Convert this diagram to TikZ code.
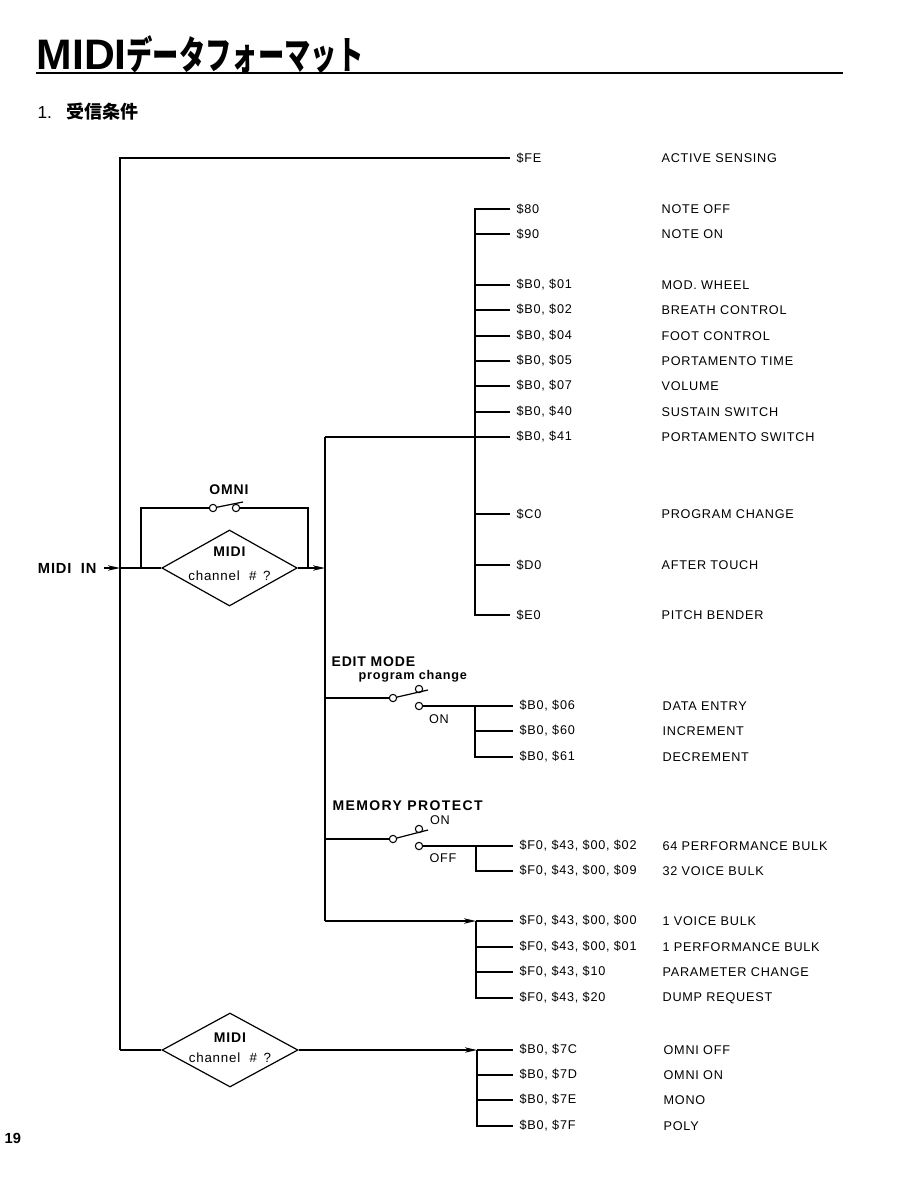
\documentclass[tikz,border=0pt]{standalone}
\usepackage{fontspec}
\usepackage{graphicx}
\setmainfont{Liberation Sans}
\newfontfamily\lab[LetterSpace=6]{Liberation Sans}
\newfontfamily\cjk{Noto Sans CJK JP}
\usetikzlibrary{arrows.meta,shapes.geometric}
\begin{document}
\begin{tikzpicture}[x=0.75pt,y=-0.75pt,line width=0.9pt,
  lbl/.style={anchor=west,inner xsep=4.5pt,inner ysep=1pt,font=\lab\fontsize{9.5}{11}\selectfont},
  desc/.style={anchor=west,inner sep=0pt,font=\lab\fontsize{9.5}{11}\selectfont},
  head/.style={anchor=west,inner sep=0pt,font=\lab\bfseries\fontsize{10.5}{12}\selectfont},
  small/.style={inner sep=0pt,font=\lab\fontsize{9.5}{11}\selectfont},
  arr/.style={-{Stealth[length=9pt,width=4pt,inset=2.5pt]}},
  pin/.style={circle,draw,fill=white,inner sep=0pt,minimum size=5.5pt,line width=0.8pt},
  dia/.style={diamond,draw,inner sep=0pt,minimum width=101.5pt,minimum height=57pt},
  diatext/.style={align=center,inner sep=0pt,font=\lab\fontsize{10}{18}\selectfont}]
\useasboundingbox (0,0) rectangle (896,1180);

% title
\node[anchor=base west,inner sep=0pt] (title) at (36,70)
  {\fontsize{32}{32}\selectfont\bfseries MIDI\cjk\fontsize{29}{29}\selectfont\scalebox{0.68}[1]{データフォーマット}};
\draw[line width=1.6pt] (36,73) -- (843,73);
\node[anchor=west,inner sep=0pt] (sec) at (37,112)
  {\fontsize{13}{14}\selectfont 1.\hspace{11pt}{\cjk\bfseries\fontsize{13.5}{14}\selectfont 受信条件}};
\node[anchor=west,inner sep=0pt] (pg) at (4,1138) {\fontsize{11}{12}\selectfont\bfseries 19};

% active sensing
\node[lbl] (fe) at (510,158) {\$FE};
\node[desc] (dfe) at (661,158) {ACTIVE SENSING};
\coordinate (top) at (120,158);
\coordinate (bot) at (120,1050);
\coordinate (inj) at (120,568);
\draw (fe.west) -- (top) -- (bot);

% MIDI IN and first diamond
\node[head,anchor=east,inner xsep=5.25pt,font=\lab\bfseries\fontsize{11}{12}\selectfont] (midiin) at (104,568) {MIDI\hspace{7pt}IN};
\draw[arr] (midiin.east) -- (inj);
\node[dia,label={[diatext,yshift=3pt]center:{{\bfseries\fontsize{10.5}{18}\selectfont MIDI}\\channel\hspace{7pt}\#\hspace{5pt}?}}] (d1) at (229.5,568) {};
\draw (inj) -- (d1.west);

% OMNI bypass
\coordinate (o1) at (141,568);
\coordinate (o2) at (308,568);
\node[pin] (sa) at (213,508) {};
\node[pin] (sb) at (236,508) {};
\draw (o1) |- (sa);
\draw (sb) -| (o2);
\draw (sa) -- (243,502);
\node[head,anchor=center] (omni) at (229,490) {OMNI};

\coordinate (j2) at (325,568);
\draw[arr] (d1.east) -- (j2);
\coordinate (v2t) at (325,437);
\coordinate (v2b) at (325,921);
\draw (v2t) -- (v2b);

% first bus
\foreach \y/\n/\c/\d in {209/a/{\$80}/{NOTE OFF},234/b/{\$90}/{NOTE ON},285/c/{\$B0, \$01}/{MOD. WHEEL},
  310/d/{\$B0, \$02}/{BREATH CONTROL},336/e/{\$B0, \$04}/{FOOT CONTROL},361/f/{\$B0, \$05}/{PORTAMENTO TIME},
  386/g/{\$B0, \$07}/{VOLUME},412/h/{\$B0, \$40}/{SUSTAIN SWITCH},437/i/{\$B0, \$41}/{PORTAMENTO SWITCH},
  514/j/{\$C0}/{PROGRAM CHANGE},565/k/{\$D0}/{AFTER TOUCH},615/l/{\$E0}/{PITCH BENDER}}{
  \node[lbl] (c\n) at (510,\y) {\c};
  \node[desc] (dd\n) at (661,\y) {\d};
}
\coordinate (b1t) at (475,209);
\coordinate (b1b) at (475,615);
\draw (ca.west) -- (b1t) -- (b1b) -- (cl.west);
\foreach \y/\n in {234/b,285/c,310/d,336/e,361/f,386/g,412/h,514/j,565/k}{
  \draw (475,\y) -- (c\n.west);
}
\draw (v2t) -- (ci.west);

% EDIT MODE
\node[head] (edit) at (331,662) {EDIT MODE};
\node[small,anchor=west] (pc) at (358,676) {\bfseries program change};
\coordinate (e0) at (325,698);
\node[pin] (ep) at (393,698) {};
\node[pin] (eu) at (419,689) {};
\node[pin] (el) at (419,706) {};
\draw (e0) -- (ep);
\draw (ep) -- (428,690);
\node[small] (on1) at (439,719) {ON};
\node[lbl] (e06) at (513,706) {\$B0, \$06};
\node[lbl] (e60) at (513,731) {\$B0, \$60};
\node[lbl] (e61) at (513,757) {\$B0, \$61};
\node[desc] (de06) at (662,706) {DATA ENTRY};
\node[desc] (de60) at (662,731) {INCREMENT};
\node[desc] (de61) at (662,757) {DECREMENT};
\coordinate (b2t) at (475,706);
\coordinate (b2b) at (475,757);
\draw (el) -- (e06.west);
\draw (b2t) -- (b2b) -- (e61.west);
\draw (475,731) -- (e60.west);

% MEMORY PROTECT
\node[head,font=\lab\bfseries\fontsize{10.5}{12}\selectfont\addfontfeature{LetterSpace=10}] (mem) at (332,806) {MEMORY PROTECT};
\node[small] (on2) at (440,820) {ON};
\coordinate (m0) at (325,839);
\node[pin] (mp) at (393,839) {};
\node[pin] (mu) at (419,829) {};
\node[pin] (ml) at (419,846) {};
\draw (m0) -- (mp);
\draw (mp) -- (428,830);
\node[small] (off) at (443,858) {OFF};
\node[lbl] (m02) at (513,846) {\$F0, \$43, \$00, \$02};
\node[lbl] (m09) at (513,871) {\$F0, \$43, \$00, \$09};
\node[desc] (dm02) at (662,846) {64 PERFORMANCE BULK};
\node[desc] (dm09) at (662,871) {32 VOICE BULK};
\coordinate (b3t) at (476,846);
\coordinate (b3b) at (476,871);
\draw (ml) -- (m02.west);
\draw (b3t) -- (b3b) -- (m09.west);

% system exclusive bus
\node[lbl] (f00) at (513,921) {\$F0, \$43, \$00, \$00};
\node[lbl] (f01) at (513,947) {\$F0, \$43, \$00, \$01};
\node[lbl] (f10) at (513,972) {\$F0, \$43, \$10};
\node[lbl] (f20) at (513,998) {\$F0, \$43, \$20};
\node[desc] (df00) at (662,921) {1 VOICE BULK};
\node[desc] (df01) at (662,947) {1 PERFORMANCE BULK};
\node[desc] (df10) at (662,972) {PARAMETER CHANGE};
\node[desc] (df20) at (662,998) {DUMP REQUEST};
\coordinate (b4t) at (476,921);
\coordinate (b4b) at (476,998);
\draw[arr] (v2b) -- (b4t);
\draw (b4t) -- (f00.west);
\draw (b4t) -- (b4b) -- (f20.west);
\draw (476,947) -- (f01.west);
\draw (476,972) -- (f10.west);

% second diamond
\node[dia,minimum width=102pt,minimum height=55.5pt,label={[diatext,font=\lab\fontsize{10}{15}\selectfont,yshift=2pt]center:{{\bfseries\fontsize{10.5}{15}\selectfont MIDI}\\channel\hspace{7pt}\#\hspace{5pt}?}}] (d2) at (230,1050) {};
\draw (bot) -- (d2.west);
\node[lbl] (s7c) at (513,1050) {\$B0, \$7C};
\node[lbl] (s7d) at (513,1075) {\$B0, \$7D};
\node[lbl] (s7e) at (513,1100) {\$B0, \$7E};
\node[lbl] (s7f) at (513,1126) {\$B0, \$7F};
\node[desc] (ds7c) at (663,1050) {OMNI OFF};
\node[desc] (ds7d) at (663,1075) {OMNI ON};
\node[desc] (ds7e) at (663,1100) {MONO};
\node[desc] (ds7f) at (663,1126) {POLY};
\coordinate (b5t) at (477,1050);
\coordinate (b5b) at (477,1126);
\draw[arr] (d2.east) -- (b5t);
\draw (b5t) -- (s7c.west);
\draw (b5t) -- (b5b) -- (s7f.west);
\draw (477,1075) -- (s7d.west);
\draw (477,1100) -- (s7e.west);
\end{tikzpicture}
\end{document}
